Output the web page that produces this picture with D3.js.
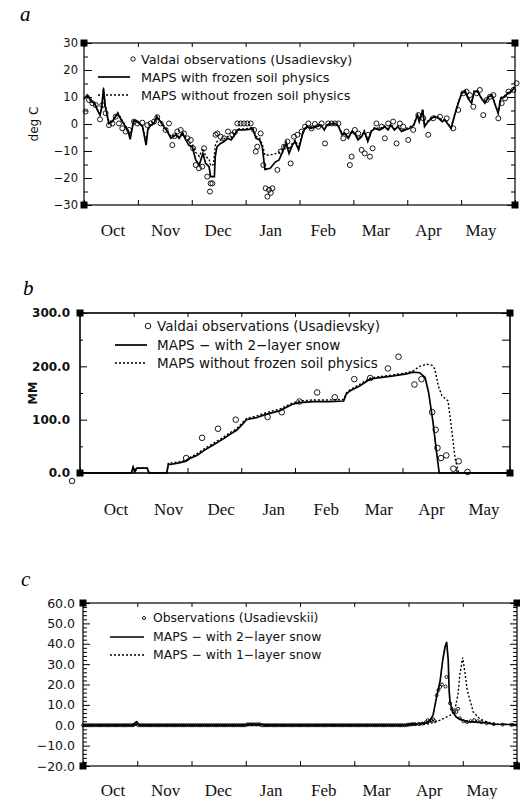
<!DOCTYPE html>
<html><head><meta charset="utf-8">
<script src="https://cdn.jsdelivr.net/npm/d3@7"></script>
<style>
body{margin:0;background:#fff}
svg{display:block}
</style></head><body>
<svg id="chart" width="520" height="799"></svg>
<script>
// ---------- shared ----------
const months = ["Oct","Nov","Dec","Jan","Feb","Mar","Apr","May"];
const seasonDays = 243;          // Oct 1 .. May 31
const monthCount = 8;

// ---------- panel a : air temperature (deg C) ----------
const aTicksMajor = [-30,-20,-10,0,10,20,30];
const aTicksMinor = [-25,-15,-5,5,15,25];
const aLegend = ["Valdai observations (Usadievsky)","MAPS with frozen soil physics","MAPS without frozen soil physics"];
const aObs = [[0.9,4.6],[2.8,8.9],[4.7,7.7],[6.6,7.0],[9,1.7],[10.3,7.0],[12.2,4],[14.1,-0.4],[16,0.2],[17.9,2.7],[19.7,0.2],[21.6,-1.6],[23.5,-2.8],[25.4,-2.2],[28.2,0.9],[30,0.2],[32.9,0.5],[35.7,-0.4],[37.6,0.2],[39.5,0.9],[41.3,2.5],[43.2,0.2],[46,-2.2],[47.9,0.2],[49.8,-7.8],[51,-4.5],[52.6,-2.8],[54.5,-2.2],[56.4,-3.5],[58.3,-5.3],[60.2,-5.9],[61.5,-9],[63,-15.2],[64.8,-16.4],[66.7,-15.8],[67.7,-9],[69.5,-19.5],[71,-25],[71.4,-22],[72.4,-22],[74.2,-4],[75.2,-3.5],[77,-4.7],[79,-5.3],[81.2,-2.8],[83.6,-4],[85,-3],[86.5,0.2],[88.3,0.2],[90.2,0.2],[92.1,0.2],[94,0.2],[95.9,-2.2],[96.8,-10.2],[97.7,-8.4],[99.6,-3.5],[101.1,-15.2],[102.4,-23.8],[103.4,-26.9],[104.3,-24.4],[105.3,-25.5],[106.2,-23.8],[109,-17],[110.9,-10.2],[112.8,-8.4],[114.7,-6.5],[116.5,-14.6],[118.4,-4.7],[120.3,-4],[122.7,-2.8],[124.6,-1],[126.5,0.2],[128.3,-1.6],[130.2,0],[132.1,-1],[134,0.2],[135.9,-7.2],[137.7,0.2],[139.6,0.2],[141.5,0.2],[143.4,0.2],[146.2,-5.3],[148,-2.8],[149.9,-15.2],[150.9,-12.1],[152.7,-2.2],[154.6,-3.5],[156.5,-9.6],[158.3,-10.9],[160.2,-4],[161.2,-12.1],[162.7,-9],[164.9,0.2],[167.8,-1],[169.6,-5.3],[171.5,0.2],[174.3,0.9],[176.2,-7.2],[178.1,0.2],[180,-1],[182.8,-5.9],[185.6,-2.2],[188.5,3.3],[191.3,2.1],[194.1,-4],[196.9,2.1],[200.7,2.7],[204.5,2.1],[208.2,-1.6],[211,5.2],[213.9,11.4],[215.7,12],[217.6,10.7],[219.5,6.4],[221.4,11.4],[223.2,12.6],[225.1,3.3],[227,8.9],[228.9,10.1],[230.8,10.7],[233.6,2.1],[235.5,7.7],[237.4,9.5],[239.3,12],[242.1,12.6],[243.9,15.1]];
const aWith = [[0,9.5],[2,10.7],[4,8.3],[6,7.7],[7.5,5.2],[9,3.3],[10,6],[11,13],[12,6.4],[14,0.2],[16,0.9],[19,4],[21,1.5],[22.5,0],[25,-2.8],[26,-5.7],[28,1.2],[30,0.9],[33,-1],[35,-7.8],[36,-2.2],[37.6,-0.4],[39.5,0.2],[41,2.7],[43,0.9],[45,-1],[47,-2.8],[49,-5.3],[52,-4],[53.6,-5.3],[55.5,-3.5],[57,-5.3],[59,-7.8],[61,-8.4],[63,-13.3],[65,-15.2],[67,-10.9],[68.6,-14.6],[70.5,-15.8],[71.4,-19.5],[73.5,-19.5],[74,-12],[75,-8.4],[77,-7.2],[79,-6.5],[81,-5.3],[83,-5.9],[85,-4],[86.5,-2.2],[88,-2.2],[90,-2.2],[93,-2],[95,-1.6],[97,-5.3],[99,-5.9],[100.5,-8.4],[102,-16.8],[105,-16.4],[108,-14],[110,-13.3],[112,-10.2],[114,-7.2],[115.6,-10.9],[117.5,-7.8],[119,-6.5],[121,-9.6],[123.6,-2.8],[125.5,-1],[128,-1.6],[131,-1],[133.5,-0.4],[135.5,-2.2],[137,-0.4],[139,0],[142,0],[143.5,-1],[145.5,-4],[147,-3.5],[149,-5.3],[151,-2.8],[153,-4],[154.5,-5.9],[156.5,-4.7],[158,-2.8],[160,-6.5],[162,-2.8],[164,-1.6],[166.7,-2.2],[169.5,-1],[171.4,-2.2],[173,-0.4],[175,-2.2],[177,-1],[179,-2.8],[181,-2.2],[183.6,-1.6],[186,-0.4],[188,3.3],[189,0.9],[191,5.2],[192,-1],[194,0.9],[196,2.1],[198,2.7],[200,2.1],[202,0.9],[203.5,1.5],[205.5,-0.4],[207,-1.6],[209,3.3],[211,7.7],[213,11.4],[215,12],[216.5,9.5],[218.5,7.7],[220,12],[222,12],[224,9.5],[226,7.7],[228,10],[230,10.7],[231.5,7.7],[233.5,4],[235,9.5],[237,10],[239,11.4],[241,12],[243,13.8]];
const aWithout = [[0,9],[2,11],[4,8.8],[6,7.5],[7.5,5.5],[9,3.8],[10,6.5],[11,13.5],[12,7],[14,0.8],[16,1.2],[19,4.2],[21,2],[22.5,0.3],[25,-2.4],[26,-5],[28,1.5],[30,1.2],[33,-0.6],[35,-7],[36,-1.8],[37.6,0],[39.5,0.6],[41,3],[43,1.2],[45,-0.6],[47,-2.4],[49,-4.8],[52,-3.5],[53.6,-4.8],[55.5,-3],[57,-4.6],[59,-6.8],[61,-7.4],[63,-10.5],[65,-12],[67,-9],[68.6,-12],[70.5,-13],[71.4,-15.5],[73,-15],[74,-8],[75,-6.5],[77,-6],[79,-5.5],[81,-4.6],[83,-5],[85,-3.4],[86.5,-1.8],[88,-1.8],[90,-1.8],[93,-1.6],[95,-1.2],[97,-4.6],[99,-5.2],[100.5,-7.5],[102,-11.5],[105,-11.5],[108,-11],[110,-10.6],[112,-9],[114,-6.5],[115.6,-9.5],[117.5,-7],[119,-6],[121,-8.5],[123.6,-2.4],[125.5,-0.7],[128,-1.2],[131,-0.7],[133.5,-0.1],[135.5,-1.8],[137,-0.1],[139,0.3],[142,0.3],[143.5,-0.7],[145.5,-3.6],[147,-3.1],[149,-4.8],[151,-2.4],[153,-3.6],[154.5,-5.4],[156.5,-4.3],[158,-2.4],[160,-6],[162,-2.4],[164,-1.2],[166.7,-1.8],[169.5,-0.7],[171.4,-1.8],[173,-0.1],[175,-1.8],[177,-0.7],[179,-2.4],[181,-1.8],[183.6,-1.2],[186,0],[188,3.6],[189,1.2],[191,5.6],[192,-0.6],[194,1.2],[196,2.4],[198,3],[200,2.4],[202,1.2],[203.5,1.8],[205.5,-0.1],[207,-1.2],[209,3.6],[211,8],[213,11.7],[215,12.3],[216.5,9.8],[218.5,8],[220,12.3],[222,12.3],[224,9.8],[226,8],[228,10.3],[230,11],[231.5,8],[233.5,4.3],[235,9.8],[237,10.3],[239,11.7],[241,12.3],[243,14.1]];

// ---------- panel b : snow water equivalent (MM) ----------
const bTicksMajor = [0,100,200,300];
const bTicksMinor = [50,150,250];
const bLegend = ["Valdai observations (Usadievsky)","MAPS \u2212 with 2\u2212layer snow","MAPS without frozen soil physics"];
const bObs = [[-4.5,-15],[60,28],[69,66],[78,83],[88,100],[106,105],[114,114],[124,134],[134,151],[144,142],[155,176],[164,178],[174,196],[180,218],[189,166],[193,176],[199,114],[201,81],[202,47],[204,28],[207,33],[211,8],[214,22],[219,2]];
const bWith = [[0,0],[29,0],[30,11],[31,2],[32,9],[38,9],[39,0],[49,0],[50,17],[51,16],[56,19],[60,22],[62,27],[66,33],[70,42],[75,52],[81,64],[85,73],[88.5,80],[92,92],[94,100],[100,104],[105,110],[113,117],[120,129],[124,132],[132,134],[141,134],[149,135],[150.5,148],[152.5,154],[158,163],[164,176],[169.5,179],[177,182],[184.5,186],[188,189],[192,188],[195,179],[197,151],[199.5,95],[201.5,39],[203,0],[243,0]];
const bWithout = [[0,0],[29,0],[30,11],[31,2],[32,9],[38,9],[39,0],[49,0],[50,18],[56,21],[60,24],[62,29],[66,36],[70,45],[75,55],[81,67],[85,76],[88.5,83],[92,95],[94,102],[100,107],[105,113],[113,120],[120,131],[124,135],[132,137],[141,137],[149,138],[150.5,150],[152.5,156],[158,166],[164,178],[169.5,181],[177,184],[184.5,188],[188,191],[192,200],[196,204],[199,202],[200.5,195],[202.5,163],[204.5,145],[208,135],[210,83],[212,27],[214,0],[243,0]];

// ---------- panel c : runoff ----------
const cTicksMajor = [-20,-10,0,10,20,30,40,50,60];
const cTicksMinor = [-18,-16,-14,-12,-8,-6,-4,-2,2,4,6,8,12,14,16,18,22,24,26,28,32,34,36,38,42,44,46,48,52,54,56,58];
const cLegend = ["Observations (Usadievskii)","MAPS \u2212 with 2\u2212layer snow","MAPS \u2212 with 1\u2212layer snow"];
// daily observations Oct 1 .. Apr 4 (day index = position)
const cObsDaily = [
 0,0,0,0,0,0,0,0,0,0,0,0,0,0,0,0,0,0,0,0,0,0,0,0,0,0,0,0,0,0.5,1.2,
 0,0,0,0,0,0,0,0,0,0,0,0,0,0,0,0,0,0,0,0,0,0,0,0,0,0,0,0,0,0,
 0,0,0,0,0,0,0,0,0,0,0,0,0,0,0,0,0,0,0,0,0,0,0,0,0,0,0,0,0,0,0,
 0.4,0.4,0.4,0.4,0.4,0.4,0.4,0.4,0,0,0,0,0,0,0,0,0,0,0,0,0,0,0,0,0,0,0,0,0,0,0,
 0,0,0,0,0,0,0,0,0,0,0,0,0,0,0,0,0,0,0,0,0,0,0,0,0,0,0,0,
 0,0,0,0,0,0,0,0,0,0,0,0,0,0,0,0,0,0,0,0,0,0,0,0,0,0,0,0,0,0,0,
 0.3,0.3,0.5,0.5
];
const cObsLate = [[186,0.5],[188,0.6],[190,0.8],[192,1.5],[193,2.5],[194,2],[195,2.5],[196,3],[197,2],[198,14.7],[199,17.2],[200,18.8],[201,20],[203,19],[203.5,23.7],[205.5,10.8],[206.5,8],[207.5,6.5],[209,6.5],[210,8.1],[211,3.4],[213,2],[215,1.6],[217,2],[219,2.5],[221,2],[223,1.5],[226,1],[230,0.5],[235,0.3],[240,0.3]];
const cWith = [[0,0],[28,0],[30,1.5],[31,0.3],[33,0],[90,0],[92,0.5],[100,0.5],[102,0],[180,0],[183,0.5],[188,0.8],[192,1.2],[194,2],[196,5],[198,13.9],[200,22],[201.4,31.9],[202.7,38.4],[203.6,40.9],[204.5,31.9],[205,17],[205.5,11.4],[207,6.5],[209,4],[211,3],[215,1.8],[220,1.5],[226,1.2],[230,0.5],[243,0.3]];
const cWithout = [[0,0],[180,0],[190,0.3],[194,0.8],[200,2.5],[205.5,4.9],[208,6.5],[210,15.5],[211,25],[212.6,33.2],[213.9,25.5],[215.2,17],[216.7,12.3],[218.5,6.5],[222,3.3],[226,1.6],[232,0.6],[243,0.3]];

// ---------- drawing ----------
const svg = d3.select("#chart");
const hershey = "'DejaVu Sans', 'Liberation Sans', sans-serif";
const serif = "'Liberation Serif', 'Times New Roman', serif";

function panel(cfg){
  const g = svg.append("g");
  const x = d3.scaleLinear().domain([0, seasonDays]).range([cfg.x0, cfg.x1]);
  const y = d3.scaleLinear().domain(cfg.yDomain).range([cfg.y1, cfg.y0]);
  const monthTicks = d3.range(0, monthCount + 1).map(i => i * seasonDays / monthCount);

  g.append("text").attr("x", cfg.letterX).attr("y", cfg.letterY)
    .attr("font-family", serif).attr("font-style","italic").attr("font-size", 21)
    .text(cfg.letter);

  g.append("rect").attr("x", cfg.x0).attr("y", cfg.y0)
    .attr("width", cfg.x1 - cfg.x0).attr("height", cfg.y1 - cfg.y0)
    .attr("fill","none").attr("stroke","#000").attr("stroke-width", cfg.frameW);

  const styleAxis = sel => {
    sel.select(".domain").remove();
    sel.selectAll("line").attr("stroke","#000").attr("stroke-width",1);
  };

  g.append("g").attr("transform",`translate(${cfg.x0},0)`)
    .call(d3.axisLeft(y).tickValues(cfg.major).tickSize(-cfg.lMaj).tickPadding(cfg.pad).tickFormat(cfg.fmt))
    .call(styleAxis)
    .call(s => s.selectAll("text").attr("font-family", cfg.labelFont).attr("font-weight", cfg.labelWeight)
      .attr("font-size", cfg.labelSize).attr("fill","#111"));
  g.append("g").attr("transform",`translate(${cfg.x0},0)`)
    .call(d3.axisLeft(y).tickValues(cfg.minor).tickSize(-cfg.lMin).tickFormat(""))
    .call(styleAxis);
  g.append("g").attr("transform",`translate(${cfg.x1},0)`)
    .call(d3.axisRight(y).tickValues(cfg.major).tickSize(-cfg.rMaj).tickFormat(""))
    .call(styleAxis);
  g.append("g").attr("transform",`translate(${cfg.x1},0)`)
    .call(d3.axisRight(y).tickValues(cfg.minor).tickSize(-cfg.rMin).tickFormat(""))
    .call(styleAxis);
  g.append("g").attr("transform",`translate(0,${cfg.y0})`)
    .call(d3.axisTop(x).tickValues(monthTicks).tickSize(-4).tickFormat(""))
    .call(styleAxis);
  g.append("g").attr("transform",`translate(0,${cfg.y1})`)
    .call(d3.axisBottom(x).tickValues(monthTicks).tickSize(-5).tickFormat(""))
    .call(styleAxis);

  const corners = [[cfg.x0,cfg.y0],[cfg.x1,cfg.y0],[cfg.x0,cfg.y1],[cfg.x1,cfg.y1]];
  g.selectAll("rect.corner").data(corners).join("rect").attr("class","corner")
    .attr("x", d => d[0]-3.5).attr("y", d => d[1]-3.5).attr("width",7).attr("height",7).attr("fill","#000");

  const lx = d3.scaleLinear().domain([0, monthCount-1]).range(cfg.monthLabelRange);
  g.selectAll("text.month").data(months).join("text").attr("class","month")
    .attr("x", (d,i) => lx(i)).attr("y", cfg.monthY)
    .attr("text-anchor","middle").attr("font-family", serif).attr("font-size", 17).attr("fill","#111")
    .text(d => d);

  if (cfg.yTitle) {
    g.append("text").attr("transform",`translate(${cfg.yTitleX},${(cfg.y0+cfg.y1)/2}) rotate(-90)`)
      .attr("text-anchor","middle").attr("font-family", cfg.labelFont).attr("font-weight", cfg.labelWeight)
      .attr("font-size", cfg.yTitleSize).attr("fill","#111").text(cfg.yTitle);
  }

  const line = d3.line().x(d => x(d[0])).y(d => y(d[1]));
  g.append("path").datum(cfg.dotted).attr("d", line).attr("fill","none")
    .attr("stroke","#000").attr("stroke-width",1.4).attr("stroke-dasharray","2,2");
  g.append("path").datum(cfg.solid).attr("d", line).attr("fill","none")
    .attr("stroke","#000").attr("stroke-width",1.7);
  g.selectAll("circle.obs").data(cfg.obs).join("circle").attr("class","obs")
    .attr("cx", d => x(d[0])).attr("cy", d => y(d[1])).attr("r", cfg.obsR)
    .attr("fill","none").attr("stroke","#000").attr("stroke-width",0.9);

  const L = cfg.legend;
  g.append("circle").attr("cx", L.cx).attr("cy", L.y[0]).attr("r", L.r)
    .attr("fill","none").attr("stroke","#000").attr("stroke-width",0.9);
  g.append("line").attr("x1", L.lx0).attr("x2", L.lx1).attr("y1", L.y[1]).attr("y2", L.y[1])
    .attr("stroke","#000").attr("stroke-width",1.7);
  g.append("line").attr("x1", L.lx0).attr("x2", L.lx1).attr("y1", L.y[2]).attr("y2", L.y[2])
    .attr("stroke","#000").attr("stroke-width",1.4).attr("stroke-dasharray","2,2");
  cfg.legendText.forEach((t,i) => {
    g.append("text").attr("x", L.tx).attr("y", L.y[i]).attr("dy","0.36em")
      .attr("font-family", hershey).attr("font-size", L.size).attr("fill","#111").text(t);
  });
}

panel({
  letter:"a", letterX:20, letterY:21,
  x0:84, x1:515, y0:43, y1:205, yDomain:[-30,30], frameW:1.2,
  major:aTicksMajor, minor:aTicksMinor, lMaj:8, lMin:4, rMaj:8, rMin:4, pad:6,
  fmt:d3.format("d"), labelFont:hershey, labelWeight:"normal", labelSize:11.5,
  monthLabelRange:[113,481], monthY:236,
  yTitle:"deg C", yTitleX:38, yTitleSize:12,
  obs:aObs, solid:aWith, dotted:aWithout, obsR:2.5,
  legendText:aLegend,
  legend:{cx:133, r:2.2, lx0:98, lx1:130, tx:141, y:[59,77,95], size:12.8}
});

panel({
  letter:"b", letterX:23, letterY:295,
  x0:80, x1:510, y0:313, y1:473, yDomain:[0,300], frameW:1.6,
  major:bTicksMajor, minor:bTicksMinor, lMaj:7, lMin:3, rMaj:8, rMin:8, pad:10,
  fmt:d3.format(".1f"), labelFont:hershey, labelWeight:"bold", labelSize:12,
  monthLabelRange:[116,484], monthY:515,
  yTitle:"MM", yTitleX:37, yTitleSize:11.5,
  obs:bObs, solid:bWith, dotted:bWithout, obsR:2.8,
  legendText:bLegend,
  legend:{cx:148, r:2.8, lx0:115, lx1:147, tx:157, y:[326,345,363], size:13.5}
});

const cAllObs = cObsDaily.map((v,i) => [i, v]).concat(cObsLate);
panel({
  letter:"c", letterX:21, letterY:586,
  x0:83, x1:517, y0:603, y1:766, yDomain:[-20,60], frameW:1.2,
  major:cTicksMajor, minor:cTicksMinor, lMaj:7, lMin:4, rMaj:7, rMin:4, pad:8,
  fmt:d3.format(".1f"), labelFont:hershey, labelWeight:"normal", labelSize:12.5,
  monthLabelRange:[113,482], monthY:796,
  yTitle:null,
  obs:cAllObs, solid:cWith, dotted:cWithout, obsR:1.5,
  legendText:cLegend,
  legend:{cx:144, r:1.5, lx0:110, lx1:144, tx:153, y:[618,637,655], size:12.4}
});
</script>
</body></html>
